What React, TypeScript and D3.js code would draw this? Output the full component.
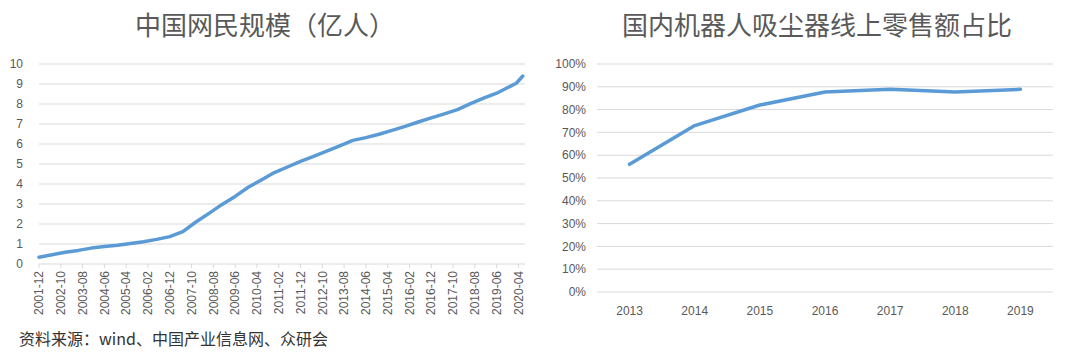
import * as d3 from "d3";
import { useEffect, useRef } from "react";

// 中国网民规模 (亿人), CNNIC half-year figures
const netDates: string[] = [
  "2001-12", "2002-06", "2002-12", "2003-06", "2003-12", "2004-06", "2004-12",
  "2005-06", "2005-12", "2006-06", "2006-12", "2007-06", "2007-12", "2008-06",
  "2008-12", "2009-06", "2009-12", "2010-06", "2010-12", "2011-06", "2011-12",
  "2012-06", "2012-12", "2013-06", "2013-12", "2014-06", "2014-12", "2015-06",
  "2015-12", "2016-06", "2016-12", "2017-06", "2017-12", "2018-06", "2018-12",
  "2019-06", "2020-03", "2020-06",
];
const netUsers: number[] = [
  0.337, 0.458, 0.591, 0.68, 0.795, 0.87, 0.94,
  1.03, 1.11, 1.23, 1.37, 1.62, 2.10, 2.53,
  2.98, 3.38, 3.84, 4.20, 4.57, 4.85, 5.13,
  5.38, 5.64, 5.91, 6.18, 6.32, 6.49, 6.68,
  6.88, 7.10, 7.31, 7.51, 7.72, 8.02, 8.29,
  8.54, 9.04, 9.40,
];
const netTickLabels: string[] = [
  "2001-12", "2002-10", "2003-08", "2004-06", "2005-04", "2006-02", "2006-12",
  "2007-10", "2008-08", "2009-06", "2010-04", "2011-02", "2011-12", "2012-10",
  "2013-08", "2014-06", "2015-04", "2016-02", "2016-12", "2017-10", "2018-08",
  "2019-06", "2020-04",
];
const netYTicks: number[] = [0, 1, 2, 3, 4, 5, 6, 7, 8, 9, 10];

// 国内机器人吸尘器线上零售额占比
const years: string[] = ["2013", "2014", "2015", "2016", "2017", "2018", "2019"];
const onlineShare: number[] = [0.56, 0.73, 0.82, 0.877, 0.889, 0.877, 0.889];
const shareYTicks: number[] = [0, 0.1, 0.2, 0.3, 0.4, 0.5, 0.6, 0.7, 0.8, 0.9, 1];

const width = 1080;
const height = 361;
const blue = "#5b9bd5";
const grid = "#d9d9d9";
const labelColor = "#595959";
const numFont = "'Liberation Sans', Arial, sans-serif";
const cjkFont = "'Noto Sans CJK SC', sans-serif";

// month index counted from 2001-12
const monthIdx = (s: string) => {
  const [y, m] = s.split("-").map(Number);
  return (y - 2001) * 12 + m - 12;
};

export default function App() {
  const svgRef = useRef<SVGSVGElement>(null);

  useEffect(() => {
    const svg = d3.select(svgRef.current);
    svg.selectAll("*").remove();

    // ---------- left chart ----------
    const x1 = d3.scaleLinear([0, 223], [39, 525]);
    const y1 = d3.scaleLinear([0, 10], [264, 64]);
    const left = svg.append("g");

    left.selectAll(".grid")
      .data(netYTicks)
      .join("line")
      .attr("x1", x1(0))
      .attr("x2", x1(223))
      .attr("y1", d => y1(d))
      .attr("y2", d => y1(d))
      .attr("stroke", grid)
      .attr("stroke-width", 1);

    left.selectAll(".ylab")
      .data(netYTicks)
      .join("text")
      .attr("x", 23)
      .attr("y", d => y1(d))
      .attr("dy", "0.35em")
      .attr("text-anchor", "end")
      .attr("font-size", 12)
      .attr("font-family", numFont)
      .attr("fill", labelColor)
      .text(d => d);

    // x ticks + rotated labels
    left.selectAll(".xtick")
      .data(netTickLabels)
      .join("line")
      .attr("x1", d => x1(monthIdx(d)))
      .attr("x2", d => x1(monthIdx(d)))
      .attr("y1", y1(0))
      .attr("y2", y1(0) + 4)
      .attr("stroke", grid);

    left.selectAll(".xlab")
      .data(netTickLabels)
      .join("text")
      .attr("transform", d => `translate(${x1(monthIdx(d))},${y1(0) + 7}) rotate(-90)`)
      .attr("dy", "0.35em")
      .attr("text-anchor", "end")
      .attr("font-size", 12)
      .attr("font-family", numFont)
      .attr("fill", labelColor)
      .text(d => d);

    const line1 = d3.line<number>((d, i) => x1(monthIdx(netDates[i])), d => y1(d));
    left.append("path")
      .attr("d", line1(netUsers))
      .attr("fill", "none")
      .attr("stroke", blue)
      .attr("stroke-width", 3.5)
      .attr("stroke-linejoin", "round")
      .attr("stroke-linecap", "round");

    left.append("text")
      .attr("x", 265)
      .attr("y", 28)
      .attr("dominant-baseline", "middle")
      .attr("text-anchor", "middle")
      .attr("font-size", 26)
      .attr("font-family", cjkFont)
      .attr("fill", labelColor)
      .text("中国网民规模（亿人）");

    // ---------- right chart ----------
    const x2 = d3.scaleBand(years, [597, 1053]);
    const y2 = d3.scaleLinear([0, 1], [292, 64]);
    const right = svg.append("g");

    right.selectAll(".grid")
      .data(shareYTicks)
      .join("line")
      .attr("x1", 597)
      .attr("x2", 1053)
      .attr("y1", d => y2(d))
      .attr("y2", d => y2(d))
      .attr("stroke", grid)
      .attr("stroke-width", 1);

    right.selectAll(".ylab")
      .data(shareYTicks)
      .join("text")
      .attr("x", 586)
      .attr("y", d => y2(d))
      .attr("dy", "0.35em")
      .attr("text-anchor", "end")
      .attr("font-size", 12)
      .attr("font-family", numFont)
      .attr("fill", labelColor)
      .text(d => d3.format(".0%")(d));

    right.selectAll(".xlab")
      .data(years)
      .join("text")
      .attr("x", d => (x2(d) ?? 0) + x2.bandwidth() / 2)
      .attr("y", 311)
      .attr("dy", "0.35em")
      .attr("text-anchor", "middle")
      .attr("font-size", 12)
      .attr("font-family", numFont)
      .attr("fill", labelColor)
      .text(d => d);

    const line2 = d3.line<number>((d, i) => (x2(years[i]) ?? 0) + x2.bandwidth() / 2, d => y2(d));
    right.append("path")
      .attr("d", line2(onlineShare))
      .attr("fill", "none")
      .attr("stroke", blue)
      .attr("stroke-width", 3.5)
      .attr("stroke-linejoin", "round")
      .attr("stroke-linecap", "round");

    right.append("text")
      .attr("x", 817)
      .attr("y", 28)
      .attr("dominant-baseline", "middle")
      .attr("text-anchor", "middle")
      .attr("font-size", 26)
      .attr("font-family", cjkFont)
      .attr("fill", labelColor)
      .text("国内机器人吸尘器线上零售额占比");

    // source note
    svg.append("text")
      .attr("x", 19)
      .attr("y", 341)
      .attr("dominant-baseline", "middle")
      .attr("font-size", 16)
      .attr("font-family", cjkFont)
      .attr("fill", "#333333")
      .text("资料来源：wind、中国产业信息网、众研会");
  }, []);

  return (
    <div style={{ position: "absolute", left: 0, top: 0 }}>
      <svg ref={svgRef} width={width} height={height} style={{ display: "block", background: "#fff" }} />
    </div>
  );
}
